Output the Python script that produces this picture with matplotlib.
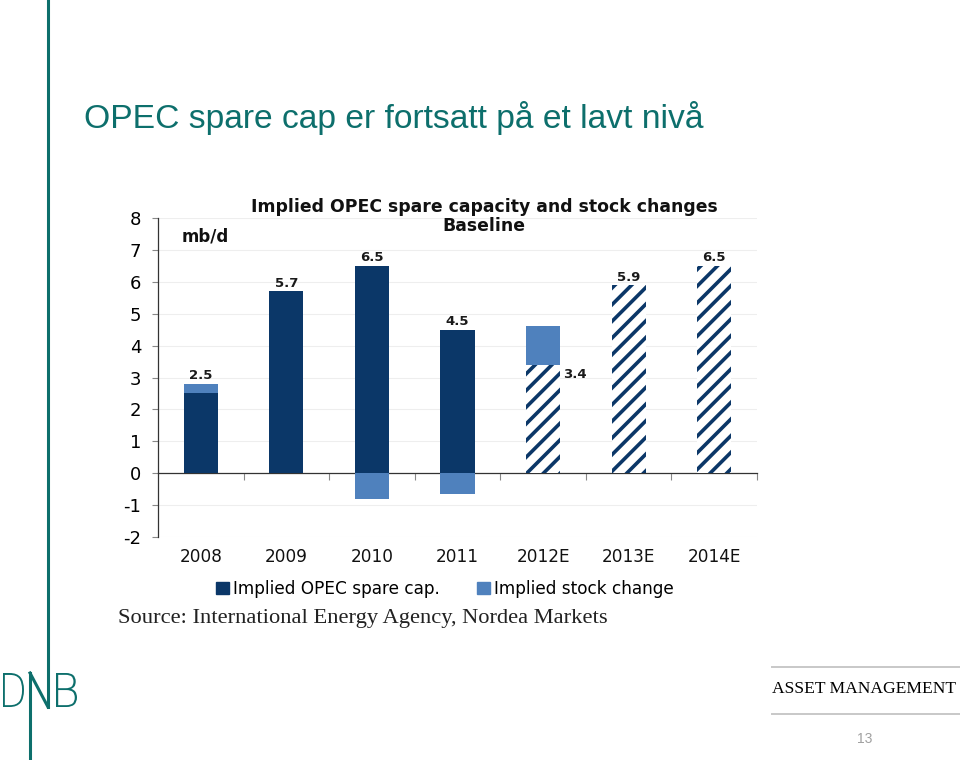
import matplotlib
matplotlib.use("Agg")
import matplotlib.pyplot as plt
from matplotlib.patches import Patch, PathPatch
from matplotlib.lines import Line2D
from matplotlib.textpath import TextPath
from matplotlib.font_manager import FontProperties
from matplotlib.transforms import Affine2D, blended_transform_factory

# data
years = ['2008', '2009', '2010', '2011', '2012E', '2013E', '2014E']
spare_cap = [2.5, 5.7, 6.5, 4.5, 3.4, 5.9, 6.5]
stock_change = [0.3, 0.0, -0.8, -0.65, 1.2, 0.0, 0.0]
is_estimate = [False, False, False, False, True, True, True]
spare_labels = ['2.5', '5.7', '6.5', '4.5', '3.4', '5.9', '6.5']

NAVY = '#0b3768'
LIGHT = '#4f81bd'
TEAL = '#0d6f6c'
W, H = 960, 760

plt.rcParams['hatch.linewidth'] = 2.6
plt.rcParams['font.family'] = ['DejaVu Sans']
plt.rcParams['axes.unicode_minus'] = False

fig = plt.figure(figsize=(9.6, 7.6), dpi=100)

def fx(x):
    return x / W

def fy(y):
    return 1 - y / H

# chart area
ax = fig.add_axes([fx(158), fy(537), (757 - 158) / W, (537 - 218) / H])
x = list(range(len(years)))
solid = [v if not e else 0 for v, e in zip(spare_cap, is_estimate)]
hatched = [v if e else 0 for v, e in zip(spare_cap, is_estimate)]
bw = 0.40
ax.bar(x, solid, width=bw, color=NAVY, linewidth=0, zorder=3)
ax.bar(x, hatched, width=bw, color='white', edgecolor=NAVY, hatch='//',
       linewidth=0, zorder=3)
# stock change sits on top of positive spare cap, below zero when negative
bottoms = [s if c > 0 else 0 for s, c in zip(spare_cap, stock_change)]
ax.bar(x, stock_change, bottom=bottoms, width=bw, color=LIGHT, linewidth=0, zorder=3)

for i, lab in enumerate(spare_labels):
    if is_estimate[i] and stock_change[i] > 0:
        ax.annotate(lab, (i + bw / 2, spare_cap[i]), xytext=(2, -2),
                    textcoords='offset points', ha='left', va='top',
                    fontsize=9.5, fontweight='bold', color='#1a1a1a')
    else:
        top = spare_cap[i] + max(stock_change[i], 0)
        ax.annotate(lab, (i, top), xytext=(0, 1), textcoords='offset points',
                    ha='center', va='bottom', fontsize=9.5, fontweight='bold',
                    color='#1a1a1a')

ax.set_xlim(-0.5, len(years) - 0.5)
ax.set_ylim(-2, 8)
ax.set_yticks(range(-2, 9))
ax.set_xticks([i + 0.5 for i in range(len(years))])
ax.set_xticklabels([])
ax.spines['bottom'].set_position(('data', 0))
for s in ['top', 'right']:
    ax.spines[s].set_visible(False)
for s in ['left', 'bottom']:
    ax.spines[s].set_color('#333333')
    ax.spines[s].set_linewidth(0.9)
ax.tick_params(axis='x', length=5, width=0.8, color='#888888', direction='out')
ax.tick_params(axis='y', length=4, width=0.8, color='#888888', labelsize=13, pad=8)
ax.yaxis.grid(True, color='#eeeeee', linewidth=0.8, zorder=0)
ax.set_axisbelow(True)

trans = blended_transform_factory(ax.transData, fig.transFigure)
for i, yr in enumerate(years):
    ax.text(i, fy(557), yr, transform=trans, ha='center', va='center',
            fontsize=12.2, color='#111111')

fig.text(fx(484), fy(207), 'Implied OPEC spare capacity and stock changes',
         ha='center', va='center', fontsize=12.4, fontweight='bold', color='#111111')
fig.text(fx(484), fy(226), 'Baseline', ha='center', va='center',
         fontsize=12.4, fontweight='bold', color='#111111')
fig.text(fx(182), fy(236), 'mb/d', ha='left', va='center',
         fontsize=12, fontweight='bold', color='#111111')

handles = [Patch(color=NAVY, label='Implied OPEC spare cap.'),
           Patch(color=LIGHT, label='Implied stock change')]
fig.legend(handles=handles, loc='center', bbox_to_anchor=(fx(445), fy(589)),
           ncol=2, frameon=False, fontsize=12.2, handlelength=0.75,
           handleheight=0.75, handletextpad=0.25, columnspacing=2.2)

fig.text(fx(118), fy(619), 'Source: International Energy Agency, Nordea Markets',
         ha='left', va='center', fontsize=16.2, family='Liberation Serif',
         color='#222222')

# slide decoration
fig.text(fx(84), fy(128), 'OPEC spare cap er fortsatt på et lavt nivå',
         ha='left', va='baseline', fontsize=24.2, family='Liberation Sans',
         color=TEAL)
fig.add_artist(Line2D([fx(48), fx(48)], [fy(0), fy(707)], color=TEAL, lw=2.2))
fig.add_artist(Line2D([fx(30), fx(30)], [fy(673), fy(760)], color=TEAL, lw=2.2))
fig.add_artist(Line2D([fx(30), fx(48)], [fy(673), fy(707)], color=TEAL, lw=2.2))
fp = FontProperties(family='DejaVu Sans', weight='light')
for ch, x0 in [('D', 3), ('B', 56)]:
    tp = TextPath((0, 0), ch, size=1, prop=fp)
    ext = tp.get_extents()
    sx = 21 / ext.width
    sy = 34 / ext.height
    tr = Affine2D().translate(-ext.x0, -ext.y0).scale(sx, sy).translate(x0, H - 707)
    fig.add_artist(PathPatch(tp, transform=tr, facecolor=TEAL, edgecolor='none'))

fig.add_artist(Line2D([fx(772), 1], [fy(667), fy(667)], color='#c8c8c8', lw=1.4))
fig.add_artist(Line2D([fx(772), 1], [fy(714), fy(714)], color='#c8c8c8', lw=1.4))
fig.text(fx(772), fy(689), 'ASSET MANAGEMENT', ha='left', va='center',
         fontsize=12.6, family='Liberation Serif', color='#000000')
fig.text(fx(865), fy(739), '13', ha='center', va='center', fontsize=10,
         family='Liberation Sans', color='#a0a0a0')

fig.savefig('out.png', dpi=100, facecolor='white')
